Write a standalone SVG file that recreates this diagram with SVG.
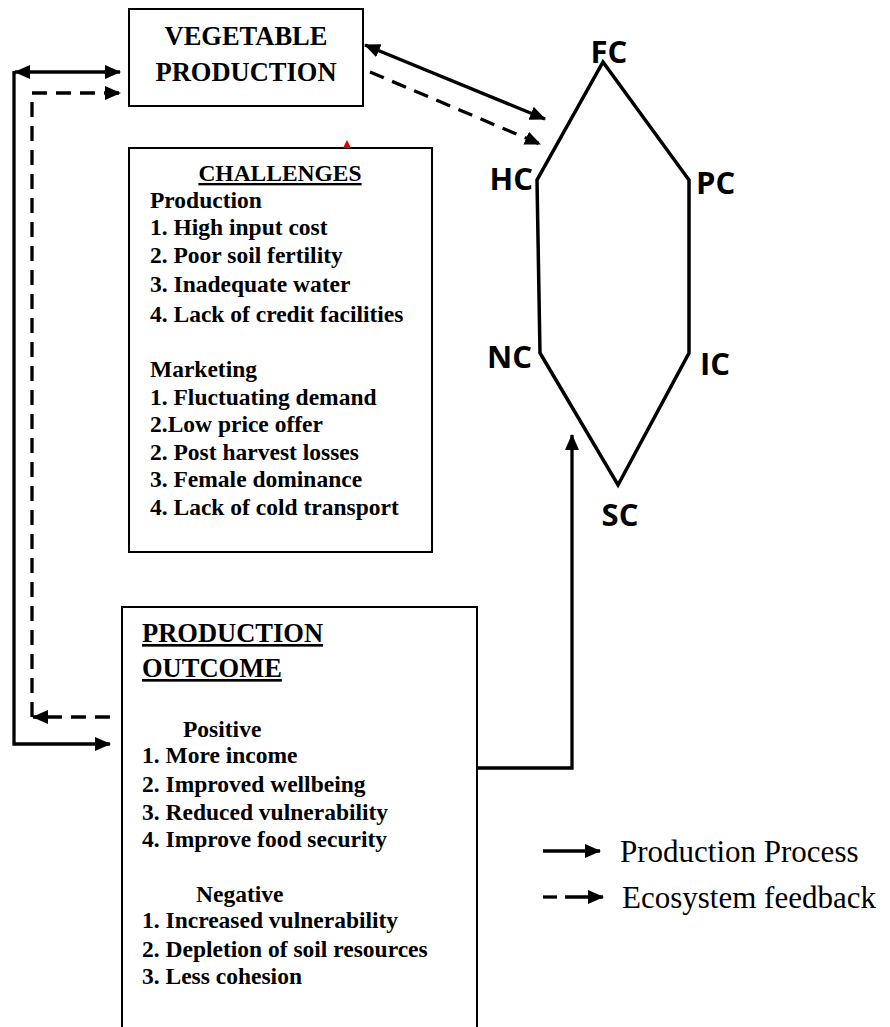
<svg xmlns="http://www.w3.org/2000/svg" width="890" height="1027" viewBox="0 0 890 1027">
<style>
.box{fill:#fff;stroke:#000;stroke-width:2}
.hd{font-family:"Liberation Serif","Times New Roman",serif;font-weight:bold;font-size:26.5px;fill:#000}
.tx{font-family:"Liberation Serif","Times New Roman",serif;font-weight:bold;font-size:23.5px;fill:#000}
.lg{font-family:"Liberation Serif","Times New Roman",serif;font-size:31px;fill:#000}
.lb{font-family:"Open Sans","Noto Sans",sans-serif;font-weight:bold;font-size:31px;fill:#000}
.ln{fill:none;stroke:#000;stroke-width:3.3}
.dash{stroke-dasharray:15 9}
</style>
<defs>
<marker id="ah" viewBox="0 0 16 14" refX="15" refY="7" markerWidth="16" markerHeight="14" markerUnits="userSpaceOnUse" orient="auto-start-reverse">
<path d="M0,0 L16,7 L0,14 z" fill="#000"/>
</marker>
</defs>
<rect width="890" height="1027" fill="#fff"/>

<g id="vegetable-production">
<rect class="box" x="129" y="9" width="234" height="97"/>
<text class="hd" x="246" y="45" text-anchor="middle">VEGETABLE</text>
<text class="hd" x="246" y="81" text-anchor="middle">PRODUCTION</text>
</g>

<g id="challenges">
<rect class="box" x="129" y="148" width="303" height="404"/>
<text class="tx" x="280" y="181" text-anchor="middle" text-decoration="underline">CHALLENGES</text>
<text class="tx" x="150" y="208">Production</text>
<text class="tx" x="150" y="235">1. High input cost</text>
<text class="tx" x="150" y="263">2. Poor soil fertility</text>
<text class="tx" x="150" y="292">3. Inadequate water</text>
<text class="tx" x="150" y="322">4. Lack of credit facilities</text>
<text class="tx" x="150" y="377">Marketing</text>
<text class="tx" x="150" y="405">1. Fluctuating demand</text>
<text class="tx" x="150" y="432">2.Low price offer</text>
<text class="tx" x="150" y="460">2. Post harvest losses</text>
<text class="tx" x="150" y="487">3. Female dominance</text>
<text class="tx" x="150" y="515">4. Lack of cold transport</text>
<polygon points="343,148 347,140 351,148" fill="#e00000"/>
</g>

<g id="production-outcome">
<path class="box" d="M122,1030 V607 H477 V1030"/>
<text class="hd" x="142" y="642" text-decoration="underline">PRODUCTION</text>
<text class="hd" x="142" y="677" text-decoration="underline">OUTCOME</text>
<text class="tx" x="183" y="737">Positive</text>
<text class="tx" x="142" y="763">1. More income</text>
<text class="tx" x="142" y="792">2. Improved wellbeing</text>
<text class="tx" x="142" y="820">3. Reduced vulnerability</text>
<text class="tx" x="142" y="847">4. Improve food security</text>
<text class="tx" x="196" y="902">Negative</text>
<text class="tx" x="142" y="928">1. Increased vulnerability</text>
<text class="tx" x="142" y="957">2. Depletion of soil resources</text>
<text class="tx" x="142" y="984">3. Less cohesion</text>
</g>

<g id="capitals-hexagon">
<polygon points="603,62 689,180 689,353 618,485 540,353 537,180" fill="none" stroke="#000" stroke-width="3.5" stroke-linejoin="miter"/>
<text class="lb" x="609" y="63" text-anchor="middle">FC</text>
<text class="lb" x="533" y="190" text-anchor="end">HC</text>
<text class="lb" x="696" y="194">PC</text>
<text class="lb" x="532" y="368" text-anchor="end">NC</text>
<text class="lb" x="700" y="375">IC</text>
<text class="lb" x="620" y="526" text-anchor="middle">SC</text>
</g>

<g id="connectors">
<line class="ln" x1="15" y1="72" x2="120" y2="72" marker-start="url(#ah)" marker-end="url(#ah)"/>
<polyline class="ln" points="14,71 14,744 110,744" marker-end="url(#ah)"/>
<polyline class="ln dash" points="110,717 33,717" marker-end="url(#ah)"/>
<polyline class="ln dash" points="32,717 32,93 120,93" marker-end="url(#ah)"/>
<line class="ln" x1="365" y1="45" x2="545" y2="119" marker-start="url(#ah)" marker-end="url(#ah)"/>
<line class="ln dash" x1="370" y1="72" x2="540" y2="144" marker-end="url(#ah)"/>
<polyline class="ln" points="477,768 572,768 572,435" marker-end="url(#ah)"/>
</g>

<g id="legend">
<line class="ln" x1="543" y1="851" x2="600" y2="851" marker-end="url(#ah)"/>
<text class="lg" x="620" y="862">Production Process</text>
<line class="ln" x1="543" y1="897" x2="557" y2="897"/>
<line class="ln" x1="565" y1="897" x2="603" y2="897" marker-end="url(#ah)"/>
<text class="lg" x="622" y="908">Ecosystem feedback</text>
</g>
</svg>
